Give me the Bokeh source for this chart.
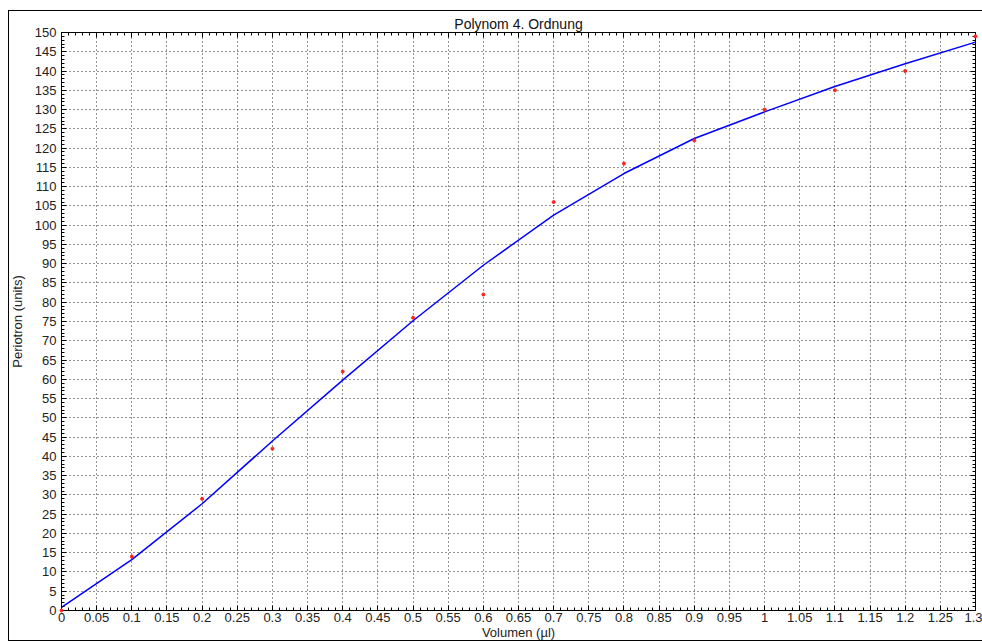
from bokeh.plotting import figure
from bokeh.models import (FixedTicker, CustomJSTickFormatter, LinearAxis,
                          Range1d, InlineStyleSheet)
from bokeh.embed import file_html
from bokeh.resources import INLINE

# ---- data ----
volumen = [0.0, 0.1, 0.2, 0.3, 0.4, 0.5, 0.6, 0.7, 0.8, 0.9, 1.0, 1.1, 1.2, 1.3]
periotron = [0, 14, 29, 42, 62, 76, 82, 106, 116, 122, 130, 135, 140, 149]
fit_periotron = [0.8, 13.2, 27.7, 44.0, 59.8, 75.2, 89.6, 102.6, 113.4, 122.5,
                 129.4, 136.0, 141.9, 147.5]

x_ticks = [0.0, 0.05, 0.1, 0.15, 0.2, 0.25, 0.3, 0.35, 0.4, 0.45, 0.5, 0.55,
           0.6, 0.65, 0.7, 0.75, 0.8, 0.85, 0.9, 0.95, 1.0, 1.05, 1.1, 1.15,
           1.2, 1.25, 1.3]
x_tick_labels = ["0", "0.05", "0.1", "0.15", "0.2", "0.25", "0.3", "0.35",
                 "0.4", "0.45", "0.5", "0.55", "0.6", "0.65", "0.7", "0.75",
                 "0.8", "0.85", "0.9", "0.95", "1", "1.05", "1.1", "1.15",
                 "1.2", "1.25", "1.3"]
y_ticks = [0, 5, 10, 15, 20, 25, 30, 35, 40, 45, 50, 55, 60, 65, 70, 75, 80,
           85, 90, 95, 100, 105, 110, 115, 120, 125, 130, 135, 140, 145, 150]
y_tick_labels = ["0", "5", "10", "15", "20", "25", "30", "35", "40", "45",
                 "50", "55", "60", "65", "70", "75", "80", "85", "90", "95",
                 "100", "105", "110", "115", "120", "125", "130", "135",
                 "140", "145", "150"]

title_text = "Polynom 4. Ordnung"
x_label = "Volumen (µl)"
y_label = "Periotron (units)"

FONT = "Liberation Sans"

x_minor = [i / 100 for i in range(0, 131)]
y_minor = list(range(0, 151))

outer_box = InlineStyleSheet(css="""
:host { position: relative; }
:host::after {
  content: "";
  position: absolute;
  left: 8px; top: 10px;
  width: 1000px; height: 631px;
  box-sizing: border-box;
  border: 1px solid black;
  pointer-events: none;
  z-index: 10;
}
""")

p = figure(width=982, height=642, output_backend="svg", toolbar_location=None,
           x_range=Range1d(0, 1.3), y_range=Range1d(0, 150),
           min_border_left=61, min_border_right=7, min_border_top=32,
           min_border_bottom=31, background_fill_color="white",
           border_fill_color="white", stylesheets=[outer_box])

p.title.text = title_text
p.title.align = "center"
p.title.text_font = FONT
p.title.text_font_size = "14px"
p.title.text_font_style = "normal"
p.title.text_color = "#111111"
p.title.standoff = 2

p.outline_line_color = "black"
p.outline_line_width = 1

xt = FixedTicker(ticks=x_ticks, minor_ticks=x_minor)
yt = FixedTicker(ticks=y_ticks, minor_ticks=y_minor)

LOOKUP = """
const i = tv.findIndex(t => Math.abs(t - tick) < 1e-9);
return i >= 0 ? tl[i] : '';
"""
xfmt = CustomJSTickFormatter(args=dict(tv=x_ticks, tl=x_tick_labels), code=LOOKUP)
yfmt = CustomJSTickFormatter(args=dict(tv=y_ticks, tl=y_tick_labels), code=LOOKUP)
empty = CustomJSTickFormatter(code="return '';")


def style_axis(ax):
    ax.major_tick_in = 5
    ax.major_tick_out = 0
    ax.minor_tick_in = 3
    ax.minor_tick_out = 0
    ax.axis_line_color = "black"
    ax.major_tick_line_color = "black"
    ax.minor_tick_line_color = "black"
    ax.major_label_text_font = FONT
    ax.major_label_text_font_size = "13px"
    ax.major_label_text_color = "#222222"
    ax.axis_label_text_font = FONT
    ax.axis_label_text_font_size = "13px"
    ax.axis_label_text_font_style = "normal"
    ax.axis_label_text_color = "#222222"


p.xaxis.ticker = xt
p.xaxis.formatter = xfmt
p.xaxis.axis_label = x_label
style_axis(p.xaxis[0])
p.xaxis.major_label_standoff = 2
p.xaxis.axis_label_standoff = 0

p.yaxis.ticker = yt
p.yaxis.formatter = yfmt
p.yaxis.axis_label = y_label
style_axis(p.yaxis[0])
p.yaxis.major_label_standoff = 5
p.yaxis.axis_label_standoff = 7

top_ax = LinearAxis(ticker=xt, formatter=empty, major_label_standoff=0)
style_axis(top_ax)
p.add_layout(top_ax, "above")
right_ax = LinearAxis(ticker=yt, formatter=empty, major_label_standoff=0)
style_axis(right_ax)
p.add_layout(right_ax, "right")

p.xgrid.ticker = xt
p.ygrid.ticker = yt
for g in (p.xgrid[0], p.ygrid[0]):
    g.grid_line_color = "black"
    g.grid_line_dash = "1 3"
    g.grid_line_width = 1
    g.grid_line_alpha = 0.85

p.line(volumen, fit_periotron, line_color="#0000ff", line_width=1.5)
p.scatter(volumen, periotron, marker="circle", size=3, color="#ff2020",
          level="overlay")

open("out.html", "w").write(file_html(p, INLINE))
